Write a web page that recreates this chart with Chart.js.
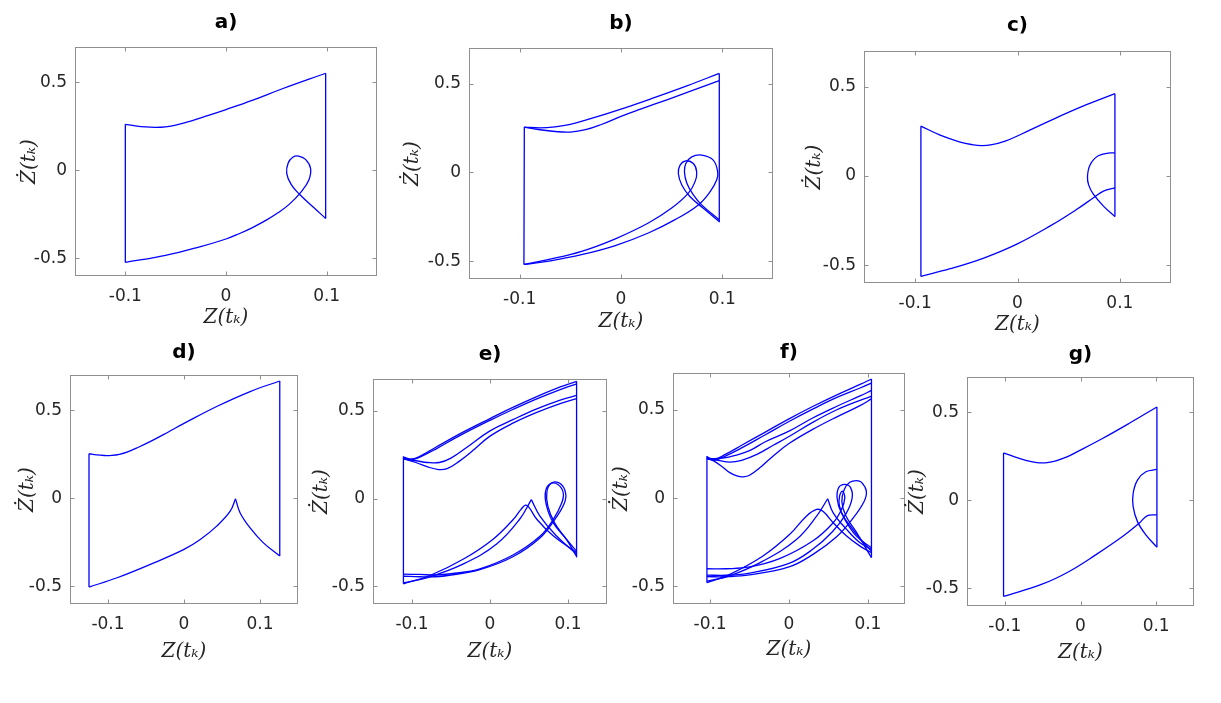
<!DOCTYPE html>
<html>
<head>
<meta charset="utf-8">
<script src="https://cdn.jsdelivr.net/npm/chart.js@4.4.0/dist/chart.umd.min.js"></script>
<style>
body{margin:0;background:#fff;}
#fig{position:relative;width:1221px;height:703px;overflow:hidden;background:#fff;}
canvas{position:absolute;}
</style>
</head>
<body>
<div id="fig"></div>
<script>
// ticks
var xTicks=[-0.1,0,0.1]
var yTicks=[-0.5,0,0.5]
var xTickLabels=['-0.1','0','0.1']
var yTickLabels=['-0.5','0','0.5']
var panelTitles=['a)','b)','c)','d)','e)','f)','g)']
var xLabel='Z(t\u2096)'
var yLabel='\u017B(t\u2096)'

// a)
var aLeft=[[-0.1,-0.523],[-0.1,0.261]]
var aTop=[[-0.1,0.261],[-0.09,0.252],[-0.08,0.246],[-0.07,0.244],[-0.06,0.247],[-0.05,0.256],[-0.035,0.279],[-0.02,0.307],[0,0.345],[0.026,0.397],[0.056,0.463],[0.099,0.551]]
var aRight=[[0.099,0.551],[0.099,-0.273]]
var aLoop=[[0.099,-0.273],[0.0863,-0.207],[0.073,-0.136],[0.0647,-0.080],[0.0603,-0.017],[0.0617,0.040],[0.0663,0.074],[0.072,0.081],[0.079,0.062],[0.084,0.011],[0.0823,-0.055],[0.0747,-0.122],[0.063,-0.192],[0.052,-0.24],[0.04,-0.283],[0.0263,-0.325],[0.013,-0.36],[0,-0.39],[-0.027,-0.436],[-0.06,-0.483],[-0.1,-0.523]]

// b)
var bLeft=[[-0.0958,-0.518],[-0.0954,0.255]]
var bTop1=[[-0.0954,0.255],[-0.08,0.25],[-0.065,0.256],[-0.05,0.27],[-0.03,0.302],[0,0.356],[0.03,0.415],[0.065,0.487],[0.097,0.557]]
var bTop2=[[-0.0954,0.255],[-0.08,0.24],[-0.065,0.23],[-0.05,0.227],[-0.035,0.24],[-0.02,0.268],[0,0.315],[0.02,0.357],[0.046,0.41],[0.07,0.46],[0.097,0.516]]
var bRight=[[0.097,0.557],[0.097,-0.281]]
var bLoop1=[[0.0967,-0.276],[0.081,-0.201],[0.068,-0.136],[0.060,-0.071],[0.0566,-0.006],[0.0583,0.041],[0.064,0.065],[0.0714,0.050],[0.0747,0.003],[0.0731,-0.052],[0.0665,-0.117],[0.050,-0.201],[0.027,-0.285],[-0.0056,-0.374],[-0.038,-0.443],[-0.071,-0.49],[-0.0958,-0.518]]
var bLoop2=[[0.0967,-0.266],[0.0796,-0.183],[0.0714,-0.127],[0.065,-0.061],[0.0626,0.003],[0.064,0.050],[0.0698,0.087],[0.0796,0.097],[0.091,0.069],[0.0954,0.003],[0.0944,-0.043],[0.088,-0.108],[0.0763,-0.183],[0.0534,-0.266],[0.027,-0.341],[-0.0056,-0.412],[-0.038,-0.462],[-0.071,-0.499],[-0.0958,-0.518]]

// c)
var cLeft=[[-0.0944,-0.563],[-0.0944,0.279]]
var cTop=[[-0.0944,0.279],[-0.0756,0.229],[-0.056,0.19],[-0.045,0.176],[-0.035,0.17],[-0.025,0.175],[-0.012,0.195],[0.003,0.232],[0.032,0.31],[0.0645,0.392],[0.0952,0.461]]
var cRight=[[0.0952,0.461],[0.0952,-0.228]]
var cArc=[[0.0952,-0.228],[0.084,-0.169],[0.0743,-0.104],[0.0695,-0.05],[0.0684,-0.002],[0.071,0.063],[0.079,0.113],[0.0906,0.129],[0.0952,0.129]]
var cLow=[[0.0952,-0.067],[0.084,-0.085],[0.0743,-0.122],[0.058,-0.187],[0.032,-0.28],[-0.0006,-0.382],[-0.033,-0.46],[-0.0658,-0.52],[-0.0944,-0.563]]

// d)
var dLeft=[[-0.125,-0.504],[-0.125,0.253]]
var dTop=[[-0.125,0.253],[-0.115,0.246],[-0.105,0.243],[-0.095,0.244],[-0.085,0.25],[-0.075,0.262],[-0.06,0.29],[-0.044,0.323],[-0.02,0.378],[0,0.425],[0.043,0.521],[0.087,0.606],[0.126,0.666]]
var dRight=[[0.126,0.666],[0.126,-0.328]]
var dCuspR=[[0.126,-0.328],[0.1045,-0.253],[0.087,-0.168],[0.0739,-0.083],[0.0678,-0.003]]
var dCuspL=[[0.0678,-0.003],[0.0608,-0.073],[0.043,-0.158],[0.0214,-0.234],[0,-0.29],[-0.0442,-0.375],[-0.088,-0.451],[-0.125,-0.504]]

// e)
var eLeft=[[-0.111,-0.485],[-0.111,0.24]]
var eRight=[[0.111,0.667],[0.111,-0.335]]
var eTop1=[[-0.111,0.235],[-0.10,0.225],[-0.09,0.24],[-0.07,0.29],[-0.04,0.365],[0,0.455],[0.03,0.52],[0.06,0.58],[0.09,0.635],[0.111,0.667]]
var eTop2=[[-0.111,0.23],[-0.10,0.22],[-0.09,0.235],[-0.07,0.28],[-0.04,0.355],[0,0.445],[0.03,0.508],[0.06,0.567],[0.09,0.62],[0.111,0.652]]
var eTop3=[[-0.111,0.225],[-0.095,0.215],[-0.08,0.205],[-0.065,0.205],[-0.05,0.23],[-0.03,0.29],[0,0.385],[0.03,0.45],[0.06,0.51],[0.09,0.56],[0.111,0.587]]
var eTop4=[[-0.111,0.225],[-0.095,0.205],[-0.08,0.18],[-0.066,0.165],[-0.055,0.17],[-0.04,0.21],[-0.02,0.28],[0,0.355],[0.03,0.43],[0.06,0.49],[0.09,0.54],[0.111,0.568]]
var eLow1=[[-0.111,-0.485],[-0.077,-0.438],[-0.034,-0.344],[0.004,-0.231],[0.030,-0.118],[0.040,-0.06],[0.0455,-0.038],[0.050,-0.05],[0.060,-0.118],[0.081,-0.212],[0.111,-0.307]]
var eLow2a=[[-0.111,-0.48],[-0.08,-0.45],[-0.034,-0.372],[0.0085,-0.259],[0.038,-0.118],[0.053,-0.006]]
var eLow2b=[[0.053,-0.006],[0.064,-0.10],[0.085,-0.212],[0.111,-0.316]]
var eLow3=[[-0.111,-0.43],[-0.09,-0.432],[-0.07,-0.435],[-0.05,-0.428],[-0.013,-0.40],[0.03,-0.32],[0.064,-0.215],[0.081,-0.12],[0.0915,-0.03],[0.094,0.03],[0.087,0.08],[0.0766,0.082],[0.071,0.035],[0.0724,-0.04],[0.081,-0.137],[0.098,-0.231],[0.111,-0.30]]
var eLow4=[[-0.111,-0.442],[-0.09,-0.445],[-0.07,-0.445],[-0.05,-0.435],[-0.013,-0.405],[0.03,-0.33],[0.064,-0.225],[0.083,-0.12],[0.095,-0.03],[0.097,0.03],[0.09,0.085],[0.079,0.088],[0.073,0.04],[0.074,-0.04],[0.083,-0.14],[0.099,-0.24],[0.111,-0.33]]

// f)
var fLeft=[[-0.104,-0.479],[-0.104,0.24]]
var fRight=[[0.1045,0.676],[0.1045,-0.337]]
var fTop1=[[-0.104,0.235],[-0.095,0.22],[-0.08,0.25],[-0.06,0.30],[-0.03,0.375],[0,0.45],[0.03,0.52],[0.06,0.585],[0.09,0.645],[0.1045,0.676]]
var fTop2=[[-0.104,0.23],[-0.095,0.215],[-0.08,0.24],[-0.06,0.285],[-0.03,0.36],[0,0.435],[0.03,0.505],[0.06,0.57],[0.09,0.625],[0.1045,0.653]]
var fTop3=[[-0.104,0.225],[-0.09,0.225],[-0.075,0.235],[-0.05,0.27],[-0.03,0.32],[0,0.38],[0.03,0.455],[0.06,0.52],[0.09,0.58],[0.1045,0.611]]
var fTop4=[[-0.104,0.225],[-0.09,0.215],[-0.075,0.205],[-0.06,0.215],[-0.04,0.25],[-0.02,0.30],[0,0.35],[0.03,0.43],[0.06,0.50],[0.09,0.555],[0.1045,0.577]]
var fTop5=[[-0.104,0.225],[-0.095,0.21],[-0.085,0.18],[-0.075,0.145],[-0.065,0.125],[-0.058,0.121],[-0.05,0.13],[-0.035,0.18],[-0.02,0.24],[0,0.31],[0.03,0.39],[0.06,0.46],[0.09,0.525],[0.1045,0.563]]
var fLow1=[[-0.104,-0.479],[-0.075,-0.432],[-0.033,-0.328],[0.001,-0.205],[0.022,-0.102],[0.035,-0.064],[0.043,-0.074],[0.056,-0.139],[0.073,-0.215],[0.090,-0.272],[0.1045,-0.309]]
var fLow2a=[[-0.104,-0.47],[-0.075,-0.44],[-0.033,-0.357],[0.0094,-0.234],[0.035,-0.102],[0.049,-0.003]]
var fLow2b=[[0.049,-0.003],[0.056,-0.083],[0.073,-0.177],[0.090,-0.253],[0.1045,-0.29]]
var fLow3=[[-0.104,-0.40],[-0.08,-0.40],[-0.05,-0.39],[-0.012,-0.343],[0.030,-0.243],[0.056,-0.139],[0.0665,-0.064],[0.0707,0.002],[0.0677,0.04],[0.064,0.011],[0.064,-0.045],[0.0707,-0.12],[0.0855,-0.215],[0.1045,-0.281]]
var fLow4=[[-0.104,-0.436],[-0.08,-0.437],[-0.05,-0.425],[0,-0.37],[0.03,-0.29],[0.055,-0.19],[0.072,-0.09],[0.08,0.0],[0.078,0.06],[0.0707,0.078],[0.063,0.06],[0.061,0.0],[0.066,-0.08],[0.078,-0.16],[0.092,-0.24],[0.1045,-0.30]]
var fLow5=[[-0.104,-0.445],[-0.08,-0.445],[-0.05,-0.435],[0,-0.39],[0.03,-0.32],[0.06,-0.22],[0.08,-0.12],[0.095,-0.02],[0.098,0.04],[0.092,0.09],[0.0855,0.10],[0.077,0.09],[0.07,0.05],[0.067,-0.02],[0.072,-0.10],[0.085,-0.19],[0.1045,-0.337]]

// g)
var gLeft=[[-0.1017,-0.546],[-0.1017,0.269]]
var gTop=[[-0.1017,0.269],[-0.081,0.238],[-0.065,0.219],[-0.0546,0.213],[-0.044,0.214],[-0.0325,0.224],[-0.018,0.246],[-0.006,0.272],[0.029,0.351],[0.064,0.436],[0.101,0.530]]
var gRight=[[0.101,0.530],[0.101,-0.266]]
var gArc=[[0.101,0.175],[0.0864,0.162],[0.0753,0.115],[0.0696,0.040],[0.0696,-0.036],[0.0753,-0.121],[0.0864,-0.196],[0.101,-0.266]]
var gLow=[[0.101,-0.083],[0.0885,-0.087],[0.0775,-0.130],[0.0555,-0.206],[0.020,-0.31],[-0.015,-0.404],[-0.050,-0.475],[-0.1017,-0.546]]

var panels=[
  [aLeft,aTop,aRight,aLoop],
  [bLeft,bTop1,bTop2,bRight,bLoop1,bLoop2],
  [cLeft,cTop,cRight,cArc,cLow],
  [dLeft,dTop,dRight,dCuspR,dCuspL],
  [eLeft,eRight,eTop1,eTop2,eTop3,eTop4,eLow1,eLow2a,eLow2b,eLow3,eLow4],
  [fLeft,fRight,fTop1,fTop2,fTop3,fTop4,fTop5,fLow1,fLow2a,fLow2b,fLow3,fLow4,fLow5],
  [gLeft,gTop,gRight,gArc,gLow]
]

// where each axes box sits on the page
var boxes=[
  {L:75,T:47,W:302,H:229,xr:[-0.15,0.15],yr:[-0.6,0.7],tg:24,yg:45,xg:42},
  {L:469,T:48,W:304,H:231,xr:[-0.15,0.15],yr:[-0.6,0.7],tg:24,yg:56,xg:42.7},
  {L:864,T:51,W:307,H:232,xr:[-0.15,0.15],yr:[-0.6,0.7],tg:25,yg:49,xg:41.7},
  {L:70,T:375,W:228,H:229,xr:[-0.15,0.15],yr:[-0.6,0.7],tg:22,yg:42,xg:47.7},
  {L:373,T:379,W:234,H:225,xr:[-0.15,0.15],yr:[-0.6,0.68],tg:24,yg:51,xg:47.4},
  {L:673,T:373,W:232,H:231,xr:[-0.147,0.147],yr:[-0.6,0.71],tg:20.5,yg:51,xg:46},
  {L:967,T:377,W:227,H:229,xr:[-0.15,0.15],yr:[-0.6,0.7],tg:22,yg:49,xg:47}
]
var TOP=40

// box round the axes, inward tick marks like matlab, and the panel letter
var boxPlugin={
  id:'box',
  afterDraw:function(chart,args,opts){
    var ctx=chart.ctx, a=chart.chartArea, sx=chart.scales.x, sy=chart.scales.y
    var l=Math.round(a.left)+0.5, r=Math.round(a.right)-0.5, t=Math.round(a.top)+0.5, b=Math.round(a.bottom)-0.5
    ctx.save()
    ctx.strokeStyle='#8f8f8f'
    ctx.lineWidth=1
    ctx.strokeRect(l,t,r-l,b-t)
    ctx.beginPath()
    xTicks.forEach(function(v){
      var p=Math.round(sx.getPixelForValue(v))+0.5
      ctx.moveTo(p,b);ctx.lineTo(p,b-4)
      ctx.moveTo(p,t);ctx.lineTo(p,t+4)
    })
    yTicks.forEach(function(v){
      var p=Math.round(sy.getPixelForValue(v))+0.5
      ctx.moveTo(l,p);ctx.lineTo(l+4,p)
      ctx.moveTo(r,p);ctx.lineTo(r-4,p)
    })
    ctx.stroke()
    // panel letter centred over the box
    ctx.fillStyle='#000'
    ctx.font='bold 20px "DejaVu Sans"'
    ctx.textAlign='center'
    ctx.textBaseline='middle'
    ctx.fillText(opts.text,(a.left+a.right)/2,a.top-opts.gap)
    ctx.restore()
  }
}

function drawPanel(i)
{
  var g=boxes[i]
  var hx=Math.round(g.xg+18)
  var cv=document.createElement('canvas')
  cv.width=70+g.W+10
  cv.height=TOP+g.H+hx
  cv.style.left=(g.L-70)+'px'
  cv.style.top=(g.T-TOP)+'px'
  document.getElementById('fig').appendChild(cv)

  var ds=panels[i].map(function(p){
    return {
      data:p.map(function(q){return {x:q[0],y:q[1]}}),
      showLine:true,
      borderColor:'#0000ff',
      borderWidth:1.3,
      pointRadius:0,
      tension:0.4,
      fill:false
    }
  })

  new Chart(cv.getContext('2d'),{
    type:'scatter',
    data:{datasets:ds},
    options:{
      responsive:false,
      animation:false,
      devicePixelRatio:1,
      layout:{padding:{left:0,right:10,top:TOP,bottom:0}},
      plugins:{
        legend:{display:false},
        tooltip:{enabled:false},
        title:{display:false},
        box:{text:panelTitles[i],gap:g.tg}
      },
      scales:{
        x:{
          type:'linear',
          min:g.xr[0],max:g.xr[1],
          afterBuildTicks:function(s){s.ticks=xTicks.map(function(v){return {value:v}})},
          afterFit:function(s){s.height=hx},
          grid:{display:false,drawTicks:false,tickLength:0},
          border:{display:false},
          ticks:{
            padding:10,
            color:'#262626',
            font:{family:'DejaVu Sans',size:17},
            maxRotation:0,
            callback:function(v,k){return xTickLabels[k]}
          },
          title:{
            display:true,
            text:xLabel,
            color:'#262626',
            font:{family:'DejaVu Serif',style:'italic',size:20},
            padding:{top:0,bottom:hx-12-g.xg}
          }
        },
        y:{
          type:'linear',
          min:g.yr[0],max:g.yr[1],
          afterBuildTicks:function(s){s.ticks=yTicks.map(function(v){return {value:v}})},
          afterFit:function(s){s.width=70},
          grid:{display:false,drawTicks:false,tickLength:0},
          border:{display:false},
          ticks:{
            padding:8,
            color:'#262626',
            font:{family:'DejaVu Sans',size:17},
            callback:function(v,k){return yTickLabels[k]}
          },
          title:{
            display:true,
            text:yLabel,
            color:'#262626',
            font:{family:'DejaVu Serif',style:'italic',size:20},
            padding:{top:58-g.yg,bottom:0}
          }
        }
      }
    },
    plugins:[boxPlugin]
  })
}

for(var i=0;i<panels.length;i++){
  drawPanel(i)
}
</script>
</body>
</html>
